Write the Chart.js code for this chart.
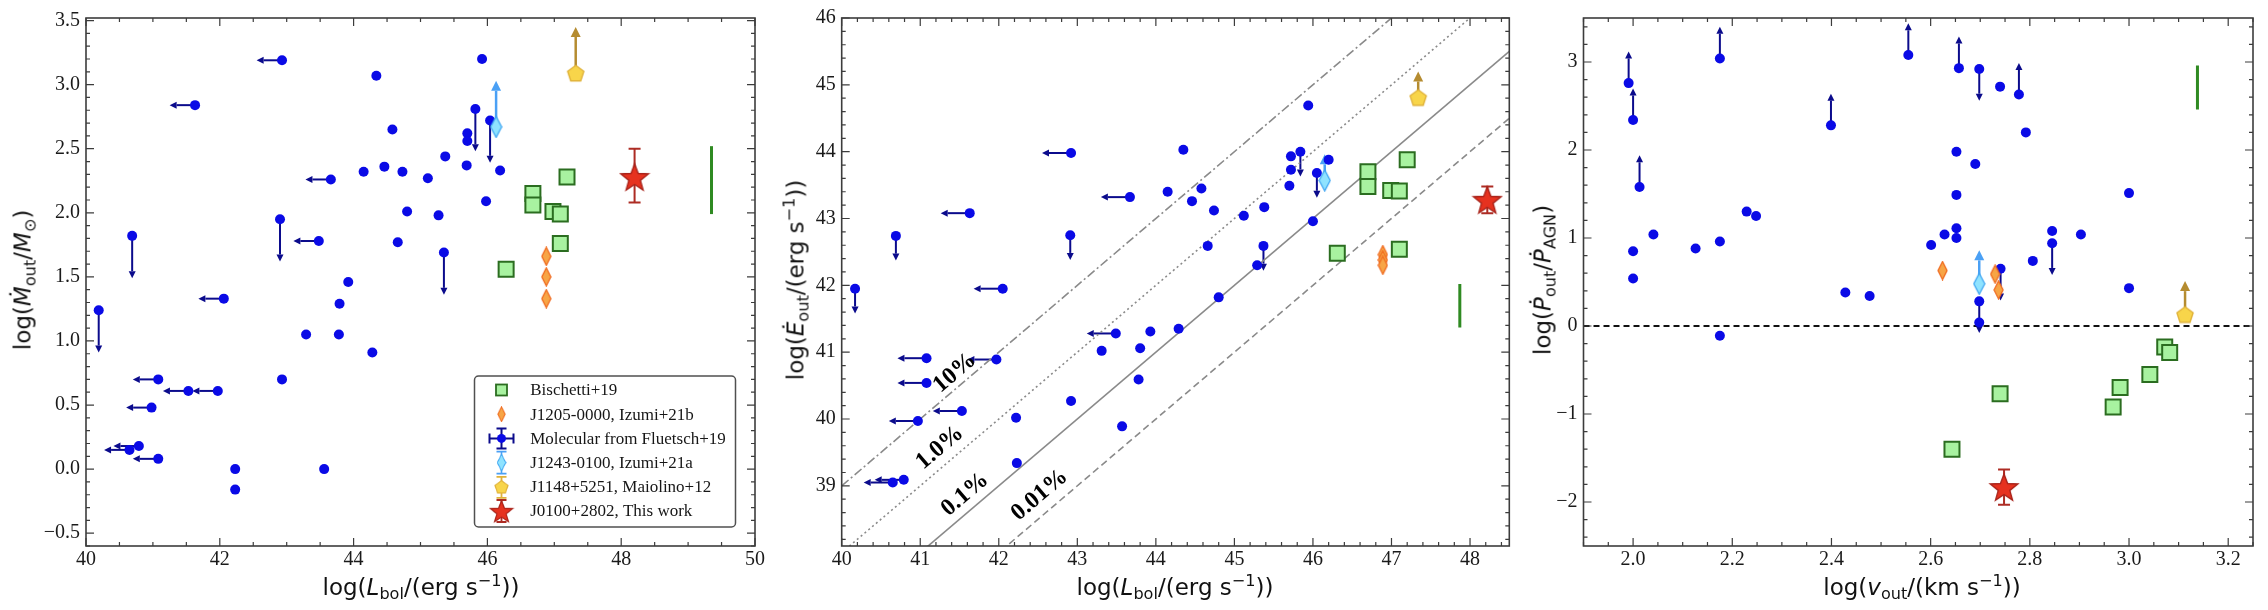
<!DOCTYPE html>
<html>
<head>
<meta charset="utf-8">
<script src="https://cdn.jsdelivr.net/npm/chart.js@4.4.1/dist/chart.umd.min.js"></script>
<style>
html, body { margin: 0; padding: 0; background: #fff; }
#wrap { position: relative; width: 2268px; height: 610px; overflow: hidden; }
canvas { position: absolute; top: 0; }
.t { position: absolute; font-family: 'DejaVu Sans', sans-serif; font-size: 23px; color: #111;
     white-space: nowrap; line-height: 1; transform: translate(-50%, -50%); }
.t.v { transform: translate(-50%, -50%) rotate(-90deg); }
.t sub { font-size: 70%; vertical-align: -0.3em; line-height: 0; }
.t sup { font-size: 70%; vertical-align: 0.55em; line-height: 0; }
</style>
</head>
<body>
<div id="wrap">
  <canvas id="p1" width="770" height="610" style="left:0px"></canvas>
  <canvas id="p2" width="755" height="610" style="left:770px"></canvas>
  <canvas id="p3" width="743" height="610" style="left:1525px"></canvas>

  <div class="t v" style="left:23px;top:280px">log(<i>Ṁ</i><sub>out</sub>/<i>M</i><sub>⊙</sub>)</div>
  <div class="t" style="left:421px;top:587px">log(<i>L</i><sub>bol</sub>/(erg s<sup>−1</sup>))</div>
  <div class="t v" style="left:796px;top:280px">log(<i>Ė</i><sub>out</sub>/(erg s<sup>−1</sup>))</div>
  <div class="t" style="left:1175px;top:587px">log(<i>L</i><sub>bol</sub>/(erg s<sup>−1</sup>))</div>
  <div class="t v" style="left:1543px;top:280px">log(<i>Ṗ</i><sub>out</sub>/<i>Ṗ</i><sub>AGN</sub>)</div>
  <div class="t" style="left:1922px;top:587px">log(<i>v</i><sub>out</sub>/(km s<sup>−1</sup>))</div>
</div>

<script>
// ---------- panel 1 : log Mdot_out vs log Lbol ----------
const p1FluetschL = [42.93, 45.92, 44.34, 41.63, 45.82, 46.04, 44.58, 45.70, 45.70, 45.37, 45.69, 44.46, 44.15, 44.73, 46.19,
  43.66, 45.11, 45.98, 44.80, 45.27, 42.90, 40.69, 43.48, 44.66, 45.35, 43.92, 43.79, 42.06, 40.19, 43.29, 43.78, 44.28,
  42.93, 41.08, 41.97, 41.53, 40.98, 40.79, 40.65, 41.08, 42.23, 42.23, 43.56];
const p1FluetschM = [3.19, 3.20, 3.07, 2.84, 2.81, 2.72, 2.65, 2.62, 2.56, 2.44, 2.37, 2.36, 2.32, 2.32, 2.33,
  2.26, 2.27, 2.09, 2.01, 1.98, 1.95, 1.82, 1.78, 1.77, 1.69, 1.46, 1.29, 1.33, 1.24, 1.05, 1.05, 0.91,
  0.70, 0.70, 0.61, 0.61, 0.48, 0.18, 0.15, 0.08, 0.00, -0.16, 0.00];
// l = upper limit in x (arrow left), d = upper limit in y (arrow down), u = lower limit in y
const p1FluetschLim = ['l', '', '', 'l', 'd', 'd', '', '', '', '', '', '', '', '', '',
  'l', '', '', '', '', 'd', 'd', 'l', '', 'd', '', '', 'l', 'd', '', '', '',
  '', 'l', 'l', 'l', 'l', 'l', 'l', 'l', '', '', ''];
const p1BischettiL = [46.68, 46.68, 47.19, 46.98, 47.09, 47.09, 46.28];
const p1BischettiM = [2.15, 2.06, 2.28, 2.01, 1.99, 1.76, 1.56];
const p1IzumiBL = [46.88, 46.88, 46.88];
const p1IzumiBM = [1.66, 1.50, 1.33];
const p1IzumiAL = [46.13];
const p1IzumiAM = [2.67];
const p1MaiolinoL = [47.32];
const p1MaiolinoM = [3.09];
const p1ThisL = [48.20];
const p1ThisM = [2.28];
const p1ThisErrLo = [0.20];
const p1ThisErrHi = [0.22];
const p1SysL = [49.35, 49.35];
const p1SysM = [1.99, 2.52];

// ---------- panel 2 : log Edot_out vs log Lbol ----------
const p2FluetschL = [40.17, 40.69, 42.92, 44.35, 45.94, 45.72, 45.84, 45.72, 46.20, 46.05, 45.70, 44.15, 44.58, 44.46, 44.74,
  43.67, 41.63, 45.12, 45.38, 46.00, 42.91, 44.66, 45.37, 45.29, 42.05, 44.80, 43.93, 44.29, 43.49, 43.31, 43.80,
  41.08, 41.97, 41.08, 43.78, 42.92, 41.53, 42.22, 40.97, 43.57, 42.23, 40.79, 40.65];
const p2FluetschE = [41.95, 42.74, 43.98, 44.03, 44.69, 43.93, 44.00, 43.73, 43.88, 43.68, 43.49, 43.40, 43.45, 43.26, 43.12,
  43.32, 43.08, 43.04, 43.17, 42.96, 42.75, 42.59, 42.59, 42.30, 41.95, 41.82, 41.31, 41.35, 41.28, 41.02, 41.06,
  40.91, 40.89, 40.54, 40.59, 40.27, 40.12, 40.02, 39.97, 39.89, 39.34, 39.09, 39.05];
const p2FluetschLim = ['d', 'd', 'l', '', '', '', 'd', '', '', 'd', '', '', '', '', '',
  'l', 'l', '', '', '', 'd', '', 'd', '', 'l', '', '', '', 'l', '', '',
  'l', 'l', 'l', '', '', 'l', '', 'l', '', '', 'l', 'l'];
const p2BischettiL = [46.70, 46.70, 46.99, 47.10, 47.20, 46.31, 47.10];
const p2BischettiE = [43.70, 43.48, 43.42, 43.41, 43.88, 42.48, 42.54];
const p2IzumiBL = [46.89, 46.89, 46.89];
const p2IzumiBE = [42.46, 42.38, 42.30];
const p2IzumiAL = [46.15];
const p2IzumiAE = [43.57];
const p2MaiolinoL = [47.34];
const p2MaiolinoE = [44.81];
const p2ThisL = [48.22];
const p2ThisE = [43.28];
const p2ThisErrLo = [0.20];
const p2ThisErrHi = [0.20];
const p2SysL = [47.87, 47.87];
const p2SysE = [41.37, 42.02];
// coupling-efficiency lines: log Edot = log Lbol + offset
const effLabels = ['10%', '1.0%', '0.1%', '0.01%'];
const effOffsets = [-1, -2, -3, -4];
const effLineL = [40, 48.5];
const effLabelL = [41.44, 41.25, 41.57, 42.52];
const effLabelE = [40.69, 39.57, 38.87, 38.86];

// ---------- panel 3 : log Pdot ratio vs log v_out ----------
const p3FluetschV = [1.991, 2.000, 2.013, 2.175, 2.399, 2.555, 2.657, 2.698, 2.740, 2.778, 2.792, 2.652, 2.690, 2.652,
  3.000, 2.229, 2.248, 2.652, 2.652, 2.628, 2.041, 2.000, 2.126, 2.175, 2.601, 2.845, 2.845, 2.903, 2.806,
  2.000, 2.428, 2.477, 3.000, 2.741, 2.698, 2.698, 2.175];
const p3FluetschP = [2.76, 2.34, 1.58, 3.04, 2.28, 3.08, 2.93, 2.92, 2.72, 2.63, 2.20, 1.98, 1.84, 1.49,
  1.51, 1.30, 1.25, 1.11, 1.00, 1.04, 1.04, 0.85, 0.88, 0.96, 0.92, 1.08, 0.94, 1.04, 0.74,
  0.54, 0.38, 0.34, 0.43, 0.65, 0.28, 0.04, -0.11];
const p3FluetschLim = ['u', 'u', 'u', 'u', 'u', 'u', 'u', 'd', '', 'u', '', '', '', '',
  '', '', '', '', '', '', '', '', '', '', '', '', 'd', '', '',
  '', '', '', '', 'd', 'd', '', ''];
const p3BischettiV = [2.643, 2.740, 2.968, 2.982, 3.042, 3.072, 3.082];
const p3BischettiP = [-1.40, -0.77, -0.92, -0.70, -0.55, -0.24, -0.30];
const p3IzumiBV = [2.624, 2.730, 2.737];
const p3IzumiBP = [0.63, 0.59, 0.41];
const p3IzumiAV = [2.698];
const p3IzumiAP = [0.48];
const p3MaiolinoV = [3.113];
const p3MaiolinoP = [0.13];
const p3ThisV = [2.748];
const p3ThisP = [-1.83];
const p3ThisErrLo = [0.20];
const p3ThisErrHi = [0.20];
const p3SysV = [3.138, 3.138];
const p3SysP = [2.46, 2.96];
const p3RefV = [1.9, 3.25];
const p3RefP = [0, 0];

const legendNames = ['Bischetti+19', 'J1205-0000, Izumi+21b', 'Molecular from Fluetsch+19',
  'J1243-0100, Izumi+21a', 'J1148+5251, Maiolino+12', 'J0100+2802, This work'];

// ---------- colours ----------
const C = {
  blue: '#0a0ae6', navy: '#0b0b8c',
  greenFill: '#a8f2a0', greenEdge: '#2b6d20',
  orangeFill: '#f7a546', orangeEdge: '#f06a1e',
  cyanFill: '#8fe3ff', cyanEdge: '#3fa6f2', cyanArrow: '#4aa0f5',
  goldFill: '#f8d54a', goldEdge: '#e0b23a', goldArrow: '#b58c30',
  redFill: '#e6321f', redEdge: '#a8231a', redErr: '#ad2c24',
  sys: '#2f8a22', eff: '#8a8a8a'
};

// ---------- marker images ----------
function shape(w, h, fill, edge, lw, pathFn) {
  const c = document.createElement('canvas');
  c.width = w; c.height = h;
  const g = c.getContext('2d');
  g.beginPath(); pathFn(g, w, h); g.closePath();
  g.fillStyle = fill; g.fill();
  g.lineWidth = lw; g.strokeStyle = edge; g.lineJoin = 'miter'; g.stroke();
  return c;
}
function diamondPath(g, w, h) {
  g.moveTo(w / 2, 1); g.lineTo(w - 1, h / 2); g.lineTo(w / 2, h - 1); g.lineTo(1, h / 2);
}
function polyStar(g, cx, cy, R, r, n) {
  for (let k = 0; k < 2 * n; k++) {
    const rad = k % 2 ? r : R;
    const a = -Math.PI / 2 + k * Math.PI / n;
    if (k === 0) g.moveTo(cx + rad * Math.cos(a), cy + rad * Math.sin(a));
    else g.lineTo(cx + rad * Math.cos(a), cy + rad * Math.sin(a));
  }
}
function pentaPath(g, w, h) {
  const R = w / 2 - 1.5, cy = h / 2 + R * 0.095;
  for (let k = 0; k < 5; k++) {
    const a = -Math.PI / 2 + k * 2 * Math.PI / 5;
    if (k === 0) g.moveTo(w / 2 + R * Math.cos(a), cy + R * Math.sin(a));
    else g.lineTo(w / 2 + R * Math.cos(a), cy + R * Math.sin(a));
  }
}
function starPath(g, w, h) {
  const R = w / 2 - 1.5;
  polyStar(g, w / 2, h / 2 + R * 0.1, R, R * 0.42, 5);
}
const orangeImg = shape(11, 20, C.orangeFill, C.orangeEdge, 1.3, diamondPath);
const cyanImg = shape(13, 23, C.cyanFill, C.cyanEdge, 1.3, diamondPath);
const pentImg = shape(20, 20, C.goldFill, C.goldEdge, 1.4, pentaPath);
const starImg = shape(32, 32, C.redFill, C.redEdge, 1.4, starPath);

// ---------- drawing helpers ----------
function arrow(ctx, x0, y0, x1, y1, color, lw, head) {
  const ang = Math.atan2(y1 - y0, x1 - x0);
  const bx = x1 - head * Math.cos(ang), by = y1 - head * Math.sin(ang);
  ctx.strokeStyle = color; ctx.fillStyle = color; ctx.lineWidth = lw;
  ctx.beginPath(); ctx.moveTo(x0, y0); ctx.lineTo(bx, by); ctx.stroke();
  ctx.beginPath();
  ctx.moveTo(x1, y1);
  ctx.lineTo(bx + head * 0.5 * Math.sin(ang), by - head * 0.5 * Math.cos(ang));
  ctx.lineTo(bx - head * 0.5 * Math.sin(ang), by + head * 0.5 * Math.cos(ang));
  ctx.closePath(); ctx.fill();
}
function vBar(ctx, x, yTop, yBot, color, lw, cap) {
  ctx.strokeStyle = color; ctx.lineWidth = lw;
  ctx.beginPath();
  ctx.moveTo(x, yTop); ctx.lineTo(x, yBot);
  ctx.moveTo(x - cap, yTop); ctx.lineTo(x + cap, yTop);
  ctx.moveTo(x - cap, yBot); ctx.lineTo(x + cap, yBot);
  ctx.stroke();
}
function pts(xs, ys) {
  return xs.map((x, i) => ({ x: x, y: ys[i] }));
}
function fmt(dec) {
  return v => (Math.abs(v) < 1e-9 ? 0 : v).toFixed(dec).replace('-', '−');
}

// per-panel extras: tick steps for the inward tick marks and extra drawing
const extras = {};

function drawLimits(chart) {
  const { ctx, scales: { x: sx, y: sy } } = chart;
  ctx.save();
  chart.data.datasets.forEach(ds => {
    ds.data.forEach((p, i) => {
      const px = sx.getPixelForValue(p.x), py = sy.getPixelForValue(p.y);
      const k = ds.lim ? ds.lim[i] : '';
      if (k) {
        let ex = p.x, ey = p.y;
        if (k === 'l') ex -= ds.limLenX;
        if (k === 'd') ey -= ds.limLenY;
        if (k === 'u') ey += ds.limLenY;
        arrow(ctx, px, py, sx.getPixelForValue(ex), sy.getPixelForValue(ey), ds.limColor, ds.limWidth, ds.limHead);
      }
      if (ds.errLo) {
        vBar(ctx, px, sy.getPixelForValue(p.y + ds.errHi[i]), sy.getPixelForValue(p.y - ds.errLo[i]), C.redErr, 2, 6);
      }
    });
  });
  ctx.restore();
}

function tickValues(min, max, step) {
  const out = [];
  for (let k = Math.ceil(min / step - 1e-6); k * step <= max + 1e-6; k++) out.push(k * step);
  return out;
}
function isMajor(v, major) {
  return Math.abs(v / major - Math.round(v / major)) < 1e-6;
}

function drawFrame(chart) {
  const { ctx, chartArea: a, scales: { x: sx, y: sy } } = chart;
  const ex = extras[chart.canvas.id];
  ctx.save();
  ctx.strokeStyle = '#3c3c3c';
  ctx.lineWidth = 1.2;
  ctx.beginPath();
  tickValues(sx.min, sx.max, ex.xMinor).forEach(v => {
    const len = isMajor(v, ex.xMajor) ? 8 : 4;
    const px = sx.getPixelForValue(v);
    ctx.moveTo(px, a.bottom); ctx.lineTo(px, a.bottom - len);
    ctx.moveTo(px, a.top); ctx.lineTo(px, a.top + len);
  });
  tickValues(sy.min, sy.max, ex.yMinor).forEach(v => {
    const len = isMajor(v, ex.yMajor) ? 8 : 4;
    const py = sy.getPixelForValue(v);
    ctx.moveTo(a.left, py); ctx.lineTo(a.left + len, py);
    ctx.moveTo(a.right, py); ctx.lineTo(a.right - len, py);
  });
  ctx.stroke();
  ctx.lineWidth = 1.6;
  ctx.strokeRect(a.left, a.top, a.right - a.left, a.bottom - a.top);
  ctx.restore();
}

const framePlugin = {
  id: 'frame',
  beforeDatasetsDraw(chart) { drawLimits(chart); },
  afterDatasetsDraw(chart) {
    drawFrame(chart);
    const ex = extras[chart.canvas.id];
    if (ex.after) ex.after(chart);
  }
};

// legend of panel 1
const legendIcons = [
  (ctx, x, y) => {
    ctx.fillStyle = C.greenFill; ctx.strokeStyle = C.greenEdge; ctx.lineWidth = 1.8;
    ctx.fillRect(x - 5.5, y - 5.5, 11, 11); ctx.strokeRect(x - 5.5, y - 5.5, 11, 11);
  },
  (ctx, x, y) => { ctx.drawImage(orangeImg, x - 4.5, y - 8, 9, 16); },
  (ctx, x, y) => {
    ctx.strokeStyle = C.navy; ctx.lineWidth = 2;
    ctx.beginPath();
    ctx.moveTo(x - 12, y); ctx.lineTo(x + 12, y);
    ctx.moveTo(x - 12, y - 5); ctx.lineTo(x - 12, y + 5);
    ctx.moveTo(x + 12, y - 5); ctx.lineTo(x + 12, y + 5);
    ctx.moveTo(x, y - 10); ctx.lineTo(x, y + 10);
    ctx.moveTo(x - 5, y - 10); ctx.lineTo(x + 5, y - 10);
    ctx.moveTo(x - 5, y + 10); ctx.lineTo(x + 5, y + 10);
    ctx.stroke();
    ctx.fillStyle = C.blue; ctx.beginPath(); ctx.arc(x, y, 4.5, 0, 2 * Math.PI); ctx.fill();
  },
  (ctx, x, y) => { vBar(ctx, x, y - 11, y + 11, C.cyanArrow, 1.6, 5); ctx.drawImage(cyanImg, x - 5, y - 9, 10, 18); },
  (ctx, x, y) => { vBar(ctx, x, y - 10, y + 11, C.goldEdge, 1.8, 5); ctx.drawImage(pentImg, x - 8, y - 8, 16, 16); },
  (ctx, x, y) => { vBar(ctx, x, y - 11, y + 11, C.redErr, 1.8, 5); ctx.drawImage(starImg, x - 13, y - 13, 26, 26); }
];
function drawLegend(chart) {
  const { ctx, chartArea: a } = chart;
  const w = 261, h = 151;
  const x0 = a.right - 19.5 - w, y0 = a.bottom - 19 - h;
  ctx.save();
  ctx.beginPath();
  ctx.roundRect(x0, y0, w, h, 4);
  ctx.fillStyle = 'rgba(255,255,255,0.9)'; ctx.fill();
  ctx.strokeStyle = '#505050'; ctx.lineWidth = 1.5; ctx.stroke();
  legendNames.forEach((name, i) => {
    const cy = y0 + 14 + i * 24.2;
    legendIcons[i](ctx, x0 + 27, cy);
    ctx.fillStyle = '#161616';
    ctx.font = '17px "Liberation Serif"';
    ctx.textAlign = 'left'; ctx.textBaseline = 'middle';
    ctx.fillText(name, x0 + 55.7, cy + 1);
  });
  ctx.restore();
}

// efficiency labels of panel 2, rotated along the 1:1 lines
function drawEffLabels(chart) {
  const { ctx, scales: { x: sx, y: sy } } = chart;
  const ang = Math.atan2(sy.getPixelForValue(41) - sy.getPixelForValue(40), sx.getPixelForValue(41) - sx.getPixelForValue(40));
  ctx.save();
  ctx.font = 'bold 24px "Liberation Serif"';
  ctx.fillStyle = '#000';
  ctx.textAlign = 'center'; ctx.textBaseline = 'middle';
  effLabels.forEach((t, i) => {
    ctx.save();
    ctx.translate(sx.getPixelForValue(effLabelL[i]), sy.getPixelForValue(effLabelE[i]));
    ctx.rotate(ang);
    ctx.fillText(t, 0, 0);
    ctx.restore();
  });
  ctx.restore();
}

// ---------- datasets ----------
function sampleSets(s) {
  return [
    { data: pts(s.thisX, s.thisY), pointStyle: starImg, pointRadius: 14, errLo: s.thisLo, errHi: s.thisHi, order: 0 },
    { data: pts(s.maiX, s.maiY), pointStyle: pentImg, pointRadius: 9, lim: ['u'], limLenX: 0, limLenY: s.len,
      limColor: C.goldArrow, limWidth: 2.5, limHead: 10, order: 1 },
    { data: pts(s.izAX, s.izAY), pointStyle: cyanImg, pointRadius: 8, lim: ['u'], limLenX: 0, limLenY: s.len,
      limColor: C.cyanArrow, limWidth: 2.5, limHead: 10, order: 2 },
    { data: pts(s.izBX, s.izBY), pointStyle: orangeImg, pointRadius: 7, order: 3 },
    { data: pts(s.bisX, s.bisY), pointStyle: 'rect', pointRadius: 10.6, backgroundColor: C.greenFill,
      borderColor: C.greenEdge, borderWidth: 2, order: 4 },
    { data: pts(s.flX, s.flY), pointStyle: 'circle', pointRadius: 5, backgroundColor: C.blue, borderWidth: 0,
      lim: s.flLim, limLenX: s.lenX, limLenY: s.lenY, limColor: C.navy, limWidth: 2, limHead: 7, order: 5 },
    { data: pts(s.sysX, s.sysY), showLine: true, pointRadius: 0, borderColor: C.sys, borderWidth: 3, order: 6 }
  ];
}

function axis(a, dir) {
  return {
    type: 'linear', min: a.min, max: a.max,
    grid: { display: false, drawTicks: false },
    border: { display: false },
    ticks: {
      autoSkip: false, maxRotation: 0,
      padding: dir === 'x' ? 2 : 6,
      font: { family: 'Liberation Serif', size: 20 }, color: '#1a1a1a',
      callback: fmt(a.dec)
    },
    // labelled ticks only at the major steps inside the range
    afterBuildTicks: s => { s.ticks = tickValues(a.min, a.max, a.major).map(v => ({ value: v })); },
    afterFit: s => { if (dir === 'x') s.height = a.size; else s.width = a.size; }
  };
}

function makePanel(id, datasets, xa, ya, padRight) {
  extras[id].xMajor = xa.major; extras[id].xMinor = xa.minor;
  extras[id].yMajor = ya.major; extras[id].yMinor = ya.minor;
  return new Chart(document.getElementById(id), {
    type: 'scatter',
    data: { datasets: datasets },
    options: {
      responsive: false, animation: false, events: [],
      layout: { padding: { left: 0, right: padRight, top: 14, bottom: 0 } },
      plugins: { legend: { display: false }, tooltip: { enabled: false } },
      scales: { x: axis(xa, 'x'), y: axis(ya, 'y') }
    },
    plugins: [framePlugin]
  });
}

// panel 1
extras.p1 = { after: drawLegend };
makePanel('p1', sampleSets({
  thisX: p1ThisL, thisY: p1ThisM, thisLo: p1ThisErrLo, thisHi: p1ThisErrHi,
  maiX: p1MaiolinoL, maiY: p1MaiolinoM, izAX: p1IzumiAL, izAY: p1IzumiAM,
  izBX: p1IzumiBL, izBY: p1IzumiBM, bisX: p1BischettiL, bisY: p1BischettiM,
  flX: p1FluetschL, flY: p1FluetschM, flLim: p1FluetschLim,
  sysX: p1SysL, sysY: p1SysM, len: 0.36, lenX: 0.38, lenY: 0.33
}),
  { min: 40, max: 50, major: 2, minor: 0.5, dec: 0, size: 64 },
  { min: -0.6, max: 3.52, major: 0.5, minor: 0.1, dec: 1, size: 86 }, 13.5);

// panel 2
const effDash = [[9, 3, 2, 3], [2, 3], [], [7, 4]];
const p2Sets = sampleSets({
  thisX: p2ThisL, thisY: p2ThisE, thisLo: p2ThisErrLo, thisHi: p2ThisErrHi,
  maiX: p2MaiolinoL, maiY: p2MaiolinoE, izAX: p2IzumiAL, izAY: p2IzumiAE,
  izBX: p2IzumiBL, izBY: p2IzumiBE, bisX: p2BischettiL, bisY: p2BischettiE,
  flX: p2FluetschL, flY: p2FluetschE, flLim: p2FluetschLim,
  sysX: p2SysL, sysY: p2SysE, len: 0.39, lenX: 0.37, lenY: 0.37
});
effOffsets.forEach((off, i) => {
  p2Sets.push({
    data: effLineL.map(l => ({ x: l, y: l + off })), showLine: true, pointRadius: 0,
    borderColor: C.eff, borderWidth: 1.6, borderDash: effDash[i], order: 9
  });
});
extras.p2 = { after: drawEffLabels };
makePanel('p2', p2Sets,
  { min: 40, max: 48.5, major: 1, minor: 0.2, dec: 0, size: 64 },
  { min: 38.1, max: 46, major: 1, minor: 0.2, dec: 0, size: 71.7 }, 15.7);

// panel 3
const p3Sets = sampleSets({
  thisX: p3ThisV, thisY: p3ThisP, thisLo: p3ThisErrLo, thisHi: p3ThisErrHi,
  maiX: p3MaiolinoV, maiY: p3MaiolinoP, izAX: p3IzumiAV, izAY: p3IzumiAP,
  izBX: p3IzumiBV, izBY: p3IzumiBP, bisX: p3BischettiV, bisY: p3BischettiP,
  flX: p3FluetschV, flY: p3FluetschP, flLim: p3FluetschLim,
  sysX: p3SysV, sysY: p3SysP, len: 0.38, lenX: 0, lenY: 0.36
});
p3Sets.push({
  data: pts(p3RefV, p3RefP), showLine: true, pointRadius: 0,
  borderColor: '#111', borderWidth: 2, borderDash: [6, 4], order: 9
});
extras.p3 = {};
makePanel('p3', p3Sets,
  { min: 1.9, max: 3.25, major: 0.2, minor: 0.05, dec: 1, size: 64 },
  { min: -2.5, max: 3.5, major: 1, minor: 0.2, dec: 0, size: 58.5 }, 7.3);
</script>
</body>
</html>
